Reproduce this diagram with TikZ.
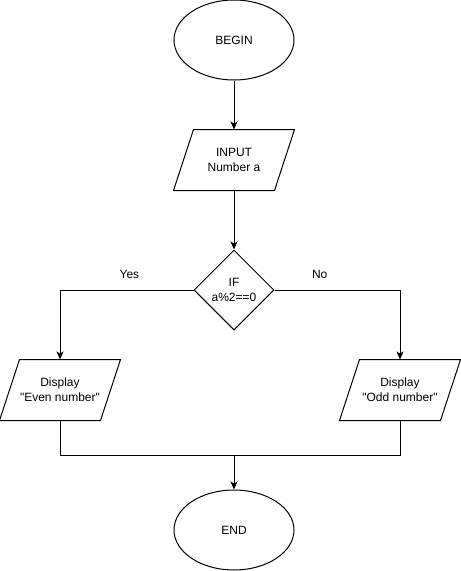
\documentclass[tikz,border=0pt]{standalone}
\usepackage{fontspec}
\setmainfont{Liberation Sans}
\usetikzlibrary{shapes.geometric,arrows.meta,positioning}
\tikzstyle{terminal} = [draw,ellipse,minimum width=120pt,minimum height=80pt,inner sep=0]
\tikzstyle{io} = [rectangle,minimum width=100pt,minimum height=60pt,inner sep=0,align=center]
\tikzstyle{decision} = [draw,diamond,minimum size=80pt,inner sep=0,align=center]
\tikzstyle{flow} = [-{Stealth[length=8pt,width=7pt,inset=2pt]}]
\tikzstyle{link} = [-]
\def \ioshift {10pt}

\begin{document}
\begin{tikzpicture}[x=1pt,y=-1pt,line width=1pt,font=\fontsize{12pt}{15pt}\selectfont]
      \useasboundingbox (0,0) rectangle (461,571);
      \node[terminal] (begin) at (234,40) {BEGIN};
      \node[io] (input) at (234,160) {INPUT\\Number a};
      \node[decision] (cond) at (234,290) {IF\\a\%2==0};
      \node[io] (even) at (60,390) {Display\\\textquotedbl Even number\textquotedbl};
      \node[io] (odd) at (400,390) {Display\\\textquotedbl Odd number\textquotedbl};
      \node[terminal] (end) at (234,530) {END};
      \coordinate (join) at (234,455);
      % parallelograms
      \draw[link] ([xshift=\ioshift]input.north west) -- ([xshift=\ioshift]input.north east) -- ([xshift=-\ioshift]input.south east) -- ([xshift=-\ioshift]input.south west) -- cycle;
      \draw[link] ([xshift=\ioshift]even.north west) -- ([xshift=\ioshift]even.north east) -- ([xshift=-\ioshift]even.south east) -- ([xshift=-\ioshift]even.south west) -- cycle;
      \draw[link] ([xshift=\ioshift]odd.north west) -- ([xshift=\ioshift]odd.north east) -- ([xshift=-\ioshift]odd.south east) -- ([xshift=-\ioshift]odd.south west) -- cycle;
      % connectors
      \draw[flow] (begin) -- (input);
      \draw[flow] (input) -- (cond);
      \draw[flow] (cond.west) -| node[pos=0.24,above=8pt] {Yes} (even.north);
      \draw[flow] (cond.east) -| node[pos=0.18,above=8pt] {No} (odd.north);
      \draw[link] (even.south) |- (join);
      \draw[link] (odd.south) |- (join);
      \draw[flow] (join) -- (end);
    \end{tikzpicture}
\end{document}
